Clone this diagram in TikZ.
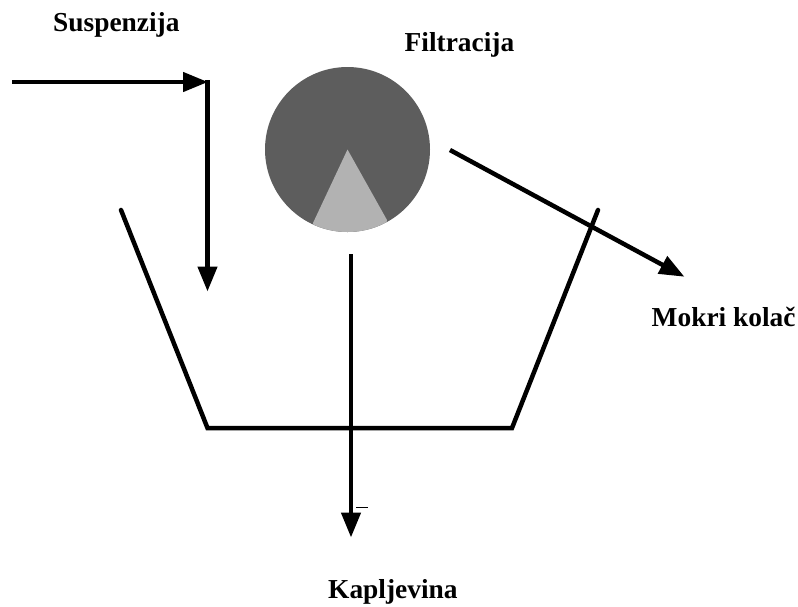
\documentclass[tikz,border=0pt]{standalone}
\usepackage{fontspec}
\setmainfont{Liberation Serif}
\usetikzlibrary{arrows.meta}
\definecolor{drum}{gray}{0.365}
\definecolor{wedge}{gray}{0.70}
\tikzset{
  px/.style={x=1pt,y=-1pt},
  lbl/.style={font=\fontsize{27.4}{32}\selectfont\bfseries,inner sep=0pt,anchor=base west,text=black},
  flow/.style={line width=4.5pt,-{Triangle[length=25pt,width=19pt]},shorten >=-0.5pt},
  wall/.style={line width=4.5pt,line cap=round,line join=miter},
}
\begin{document}
\begin{tikzpicture}[px]
\useasboundingbox (0,0) rectangle (798,606);
\coordinate (inA) at (12,82);
\coordinate (corner) at (207.5,82);
\coordinate (inB) at (207.5,80);
\coordinate (inEnd) at (207.5,291);
\coordinate (cakeA) at (450,150);
\coordinate (cakeB) at (684,276.5);
\coordinate (liqA) at (351,254);
\coordinate (liqB) at (351,537);
\coordinate (c) at (347.5,149.5);
\coordinate (vA) at (121,210);
\coordinate (vB) at (207.5,428);
\coordinate (vC) at (512,428);
\coordinate (vD) at (598,210);
\coordinate (tickA) at (356,507);
\coordinate (tickB) at (368,507);

\fill[drum] (c) circle[radius=82.5];
\begin{scope}
  \clip (c) circle[radius=82.5];
  \fill[wedge] (c) -- (313.0,223) -- (320,260) -- (380,260) -- (387,220) -- cycle;
\end{scope}

\draw[wall] (vA) -- (vB) -- (vC) -- (vD);
\draw[flow] (inA) -- (corner);
\draw[flow] (inB) -- (inEnd);
\draw[flow] (cakeA) -- (cakeB);
\draw[flow] (liqA) -- (liqB);
\draw[line width=1pt] (tickA) -- (tickB);

\node[lbl] (suspenzija) at (53,31) {Suspenzija};
\node[lbl] (filtracija) at (404.5,51) {Filtracija};
\node[lbl] (kolac) at (651.5,326) {Mokri kolač};
\node[lbl] (kapljevina) at (328,598) {Kapljevina};
\end{tikzpicture}
\end{document}
